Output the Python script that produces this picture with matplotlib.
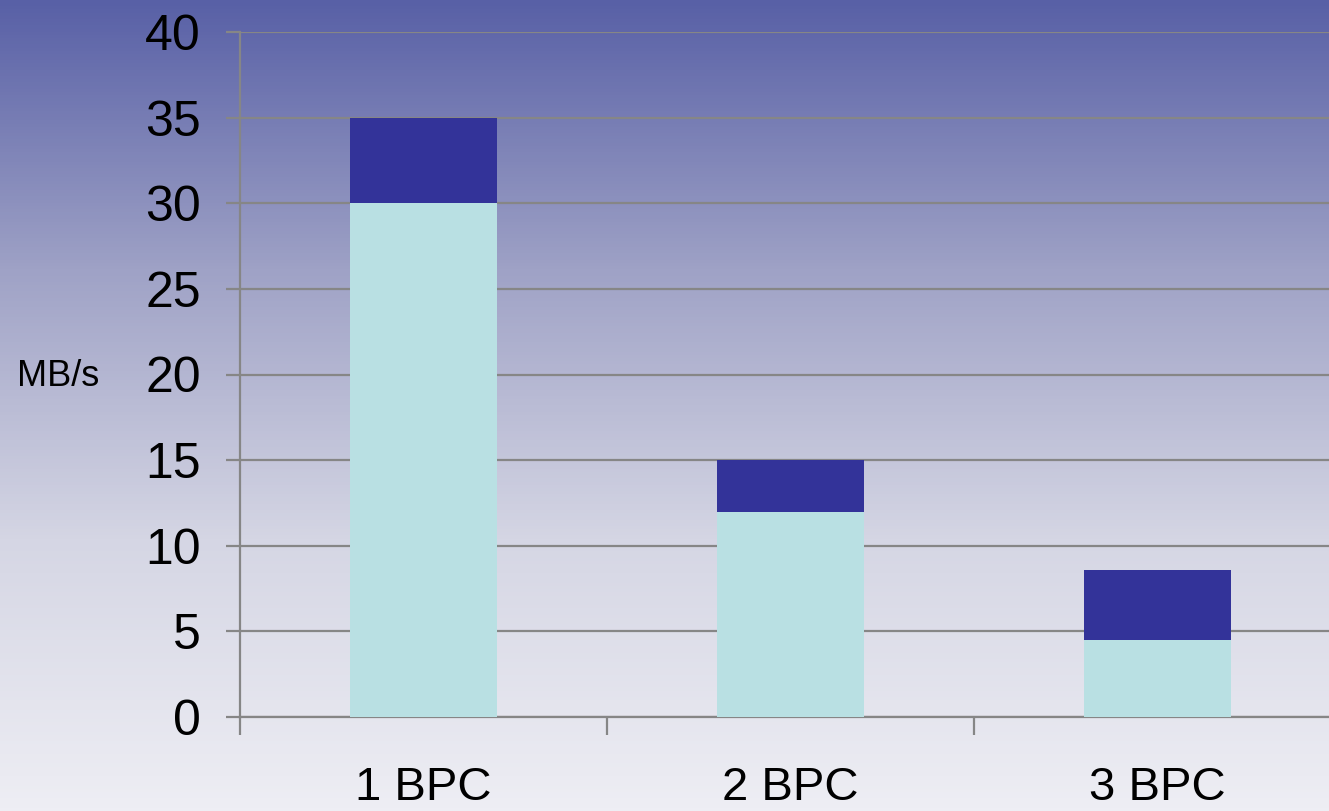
import matplotlib
matplotlib.use("Agg")
from matplotlib import pyplot as plt
from matplotlib.colors import LinearSegmentedColormap
import numpy as np

# Datos
categorias = ["1 BPC", "2 BPC", "3 BPC"]
parte_baja = [30, 12, 4.5]
parte_alta = [5, 3, 4.1]
ticks_y = [0, 5, 10, 15, 20, 25, 30, 35, 40]

plt.rcParams['font.family'] = ['Liberation Sans', 'DejaVu Sans']

fig = plt.figure(figsize=(13.29, 8.11), dpi=100)

# Fondo degradado
fondo = fig.add_axes([0, 0, 1, 1], zorder=-10)
cmap = LinearSegmentedColormap.from_list("fondo", ["#5860a6", "#9fa2c6", "#d5d6e4", "#eeeef4"])
fondo.imshow(np.linspace(0, 1, 256).reshape(-1, 1), aspect="auto", cmap=cmap,
             extent=[0, 1, 0, 1])
fondo.set_axis_off()

ax = fig.add_axes([240 / 1329, 1 - 717 / 811, 1 - 240 / 1329, (717 - 32) / 811])
ax.patch.set_alpha(0)

x = np.arange(len(categorias))
ax.bar(x, parte_baja, width=0.403, color="#b9e0e3", zorder=3)
ax.bar(x, parte_alta, width=0.403, bottom=parte_baja, color="#333399", zorder=3)

ax.set_yticks(ticks_y)
ax.set_yticklabels([str(t) for t in ticks_y], fontsize=36)
ax.yaxis.grid(True, color="#868686", linewidth=1.6, zorder=0)
ax.set_axisbelow(True)

ax.set_xticks(x)
ax.set_xticklabels(categorias, fontsize=34)
ax.set_xticks(np.arange(-0.5, 3, 1), minor=True)
ax.tick_params(axis="x", which="major", length=0, pad=35)
ax.tick_params(axis="x", which="minor", length=13, width=1.6, color="#868686")
ax.tick_params(axis="y", length=10, width=1.6, color="#868686", pad=18)

# limites despues de los ticks (set_xticks los amplía)
ax.set_xlim(-0.5, (1329 - 240) / 367 - 0.5)
ax.set_ylim(0, 40)

for lado in ["top", "right"]:
    ax.spines[lado].set_visible(False)
ax.spines["left"].set_color("#868686")
ax.spines["left"].set_linewidth(1.6)
ax.spines["bottom"].set_color("#868686")
ax.spines["bottom"].set_linewidth(1.6)

fig.text(58 / 1329, 1 - 376 / 811, "MB/s", fontsize=26, ha="center", va="center")

fig.savefig("out.png", dpi=100)
